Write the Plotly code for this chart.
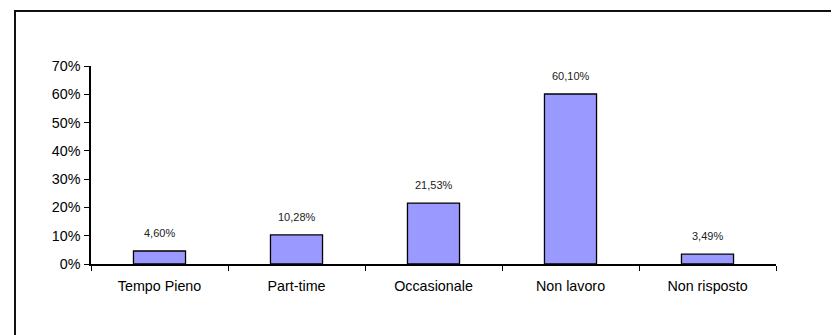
import plotly.graph_objects as go

# Data
categories = ["Tempo Pieno", "Part-time", "Occasionale", "Non lavoro", "Non risposto"]
shares = [0.0460, 0.1028, 0.2153, 0.6010, 0.0349]
labels = ["4,60%", "10,28%", "21,53%", "60,10%", "3,49%"]

# the page body adds 8px offset, so figure coords are screen coords minus 8
W, H = 839, 335
ML, MT = 83, 58
plot_w, plot_h = 685, 198
MR = W - ML - plot_w
MB = H - MT - plot_h

fig = go.Figure(
    go.Bar(
        x=categories,
        y=shares,
        marker=dict(color="#9999FF", line=dict(color="#000000", width=1.3)),
        hoverinfo="x+y",
    )
)

for cat, val, lab in zip(categories, shares, labels):
    fig.add_annotation(
        x=cat, y=val, text=lab, showarrow=False,
        yanchor="bottom", yshift=10,
        font=dict(family="Liberation Sans, Arial", size=11, color="#222222"),
    )

# outer chart-area frame (cropped at right and bottom in the original)
fig.add_shape(
    type="rect", xref="paper", yref="paper",
    x0=(7 - ML) / plot_w, x1=(W + 40 - ML) / plot_w,
    y0=-1.0, y1=(MT + plot_h - 3) / plot_h,
    line=dict(color="#111111", width=2), layer="below",
)

fig.update_layout(
    width=W, height=H,
    margin=dict(l=ML, r=MR, t=MT, b=MB),
    paper_bgcolor="white", plot_bgcolor="white",
    bargap=0.62, showlegend=False,
    font=dict(family="Liberation Sans, Arial", size=14.3, color="#000000"),
)
fig.update_xaxes(
    showline=True, linecolor="#000000", linewidth=1.5,
    ticks="outside", tickson="boundaries", ticklen=5, tickcolor="#000000",
    ticklabelstandoff=8,
    showgrid=False, range=[-0.5, 4.5],
)
fig.update_yaxes(
    range=[0, 0.7], dtick=0.1, tickformat=".0%",
    showline=True, linecolor="#000000", linewidth=1.5,
    ticks="outside", ticklen=5, tickcolor="#000000",
    ticklabelstandoff=1,
    showgrid=False, zeroline=False,
)

fig.write_html("out.html")
